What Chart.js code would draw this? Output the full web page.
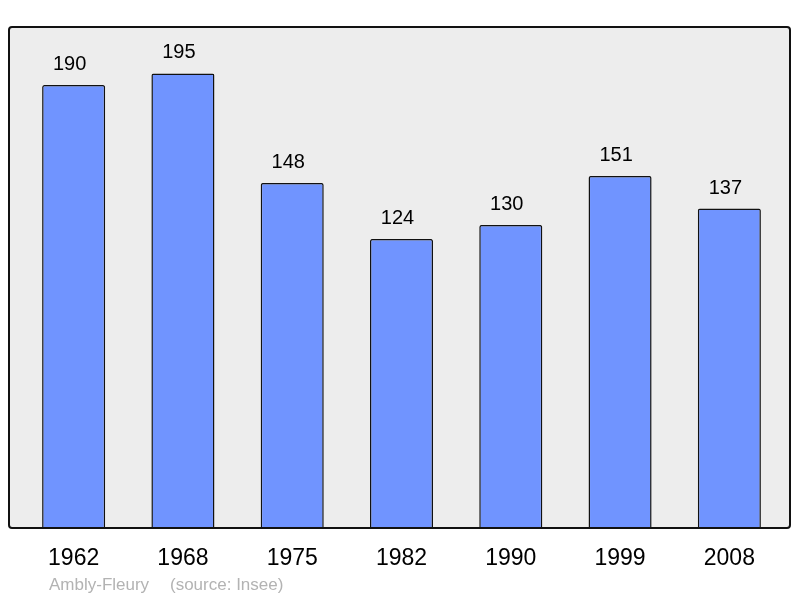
<!DOCTYPE html>
<html><head><meta charset="utf-8">
<script src="https://cdn.jsdelivr.net/npm/chart.js@4/dist/chart.umd.min.js"></script>
<style>html,body{margin:0;padding:0;background:#fff}#w{width:800px;height:598px}</style>
</head><body><div id="w"><canvas id="c" width="800" height="598"></canvas></div>
<script>
const years = ["1962","1968","1975","1982","1990","1999","2008"];
const population = [190,195,148,124,130,151,137];
const footerName = "Ambly-Fleury";
const footerSource = "(source: Insee)";

const boxPlugin = {
  id:'box',
  beforeDatasetsDraw(chart){
    const ctx=chart.ctx;
    ctx.save();
    ctx.fillStyle='#ededed';
    ctx.beginPath();
    ctx.roundRect(9,27,781,501,3);
    ctx.fill();
    ctx.restore();
  },
  afterDatasetsDraw(chart){
    const ctx=chart.ctx;
    ctx.save();
    ctx.strokeStyle='#111';
    ctx.lineWidth=2;
    ctx.beginPath();
    ctx.roundRect(9,27,781,501,3);
    ctx.stroke();
    const meta=chart.getDatasetMeta(0);
    ctx.fillStyle='#000';
    ctx.textAlign='center';
    ctx.textBaseline='alphabetic';
    ctx.font='20px "Liberation Sans", Arial, sans-serif';
    meta.data.forEach((b,i)=>{ ctx.fillText(String(population[i]), b.x-4, b.y-15); });
    ctx.font='23px "Liberation Sans", Arial, sans-serif';
    const xs=chart.scales.x;
    years.forEach((y,i)=>{ ctx.fillText(y, xs.getPixelForValue(i), 565); });
    ctx.fillStyle='#b3b3b3';
    ctx.textAlign='left';
    ctx.font='17px "Liberation Sans", Arial, sans-serif';
    ctx.fillText(footerName, 49, 590);
    ctx.fillText(footerSource, 170, 590);
    ctx.restore();
  }
};

new Chart(document.getElementById('c'),{
  type:'bar',
  data:{labels:years,datasets:[{data:population,backgroundColor:'#7094ff',borderColor:'#111',borderWidth:1.5,borderSkipped:'bottom',borderRadius:{topLeft:2,topRight:2},categoryPercentage:1,barPercentage:0.577}]},
  options:{
    responsive:false,animation:false,
    layout:{padding:{left:19,right:16,top:27,bottom:70}},
    plugins:{legend:{display:false},tooltip:{enabled:false}},
    scales:{
      x:{display:false,offset:true},
      y:{display:false,min:0,max:214.9}
    }
  },
  plugins:[boxPlugin]
});
</script></body></html>
